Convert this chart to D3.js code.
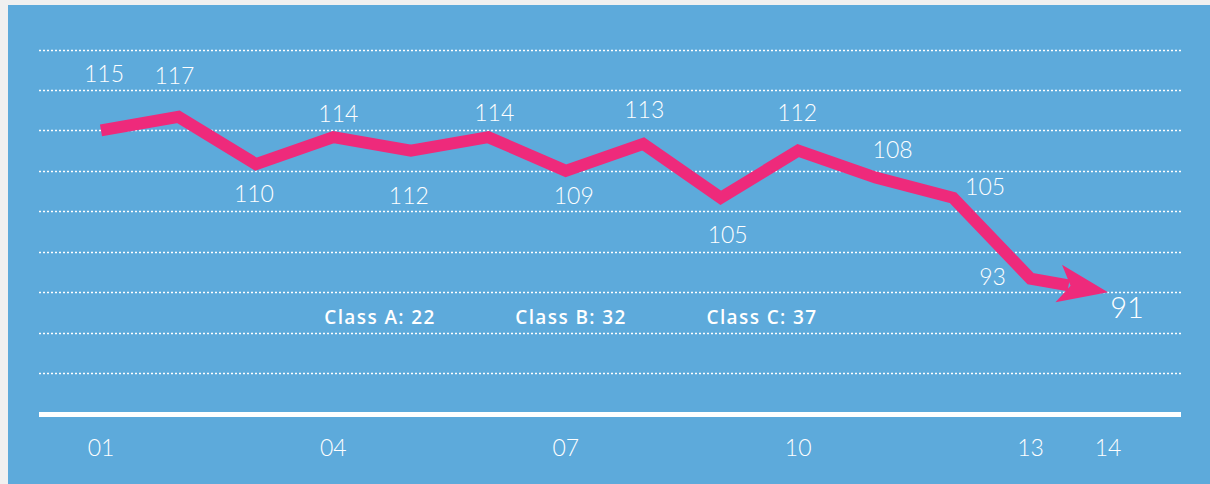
<!DOCTYPE html>
<html>
<head>
<meta charset="utf-8">
<script src="https://cdn.jsdelivr.net/npm/d3@7"></script>
<style>
  html, body { margin: 0; padding: 0; background: #f0f0f0; }
  svg { display: block; }
</style>
</head>
<body>
<div id="chart"></div>
<script>
"use strict"

// data
let periods = [1, 2, 3, 4, 5, 6, 7, 8, 9, 10, 11, 12, 13, 14];
let values = [115, 117, 110, 114, 112, 114, 109, 113, 105, 112, 108, 105, 93, 91];
let tickPeriods = [1, 4, 7, 10, 13, 14];
let tickLabels = ["01", "04", "07", "10", "13", "14"];
let gridValues = [79, 85, 91, 97, 103, 109, 115, 121, 127];
let classNames = ["Class A", "Class B", "Class C"];
let classCounts = [22, 32, 37];

// where each value label sits relative to its point (dx, dy to baseline)
let labelOffsets = [
    [3, -48], [-4, -33], [-2, 38], [5, -15], [-2, 53], [6, -16], [8, 33],
    [1, -26], [7, 45], [-1, -30], [17, -20], [32, -3], [-38, 6], [19, 26]
];

let width = 1210, height = 484;
let pink = "#ee2a7b";

let drawing = d3.select("#chart")
    .append("svg")
    .attr("width", width)
    .attr("height", height);

// blue panel
drawing.append("rect")
    .attr("x", 8)
    .attr("y", 5)
    .attr("width", width - 8)
    .attr("height", height - 5)
    .attr("fill", "#5daadb");

let x = d3.scaleLinear().domain([1, 14]).range([101, 1108]);
let y = d3.scaleLinear().domain([73, 127]).range([413.5, 49.5]);

// dotted grid
drawing.append("g")
    .selectAll("line")
    .data(gridValues)
    .join("line")
    .attr("x1", 39)
    .attr("x2", 1181)
    .attr("y1", d => Math.round(y(d)) + 0.5)
    .attr("y2", d => Math.round(y(d)) + 0.5)
    .attr("stroke", "#ffffff")
    .attr("stroke-width", 1.5)
    .attr("stroke-dasharray", "2,2");

// base line
drawing.append("line")
    .attr("x1", 39)
    .attr("x2", 1181)
    .attr("y1", y(73) + 1)
    .attr("y2", y(73) + 1)
    .attr("stroke", "#ffffff")
    .attr("stroke-width", 5);

// x tick labels
drawing.append("g")
    .selectAll("text")
    .data(tickPeriods)
    .join("text")
    .attr("x", d => x(d))
    .attr("y", 456)
    .attr("text-anchor", "middle")
    .attr("font-family", "Lato, sans-serif")
    .attr("font-weight", 300)
    .attr("font-size", 23)
    .attr("fill", "#ffffff")
    .text((d, i) => tickLabels[i]);

// line with arrow head at the end
let pts = periods.map((p, i) => [x(p), y(values[i])]);
let tip = pts[pts.length - 1];
let prev = pts[pts.length - 2];
let len = Math.hypot(tip[0] - prev[0], tip[1] - prev[1]);
let ux = (tip[0] - prev[0]) / len, uy = (tip[1] - prev[1]) / len;
let nx = -uy, ny = ux;
let headLen = 50, headHalf = 19, notch = 38;

let linePts = pts.slice(0, -1).concat([[tip[0] - ux * (notch + 2), tip[1] - uy * (notch + 2)]]);

drawing.append("path")
    .attr("d", d3.line()(linePts))
    .attr("fill", "none")
    .attr("stroke", pink)
    .attr("stroke-width", 12)
    .attr("stroke-linejoin", "miter")
    .attr("stroke-miterlimit", 10);

drawing.append("polygon")
    .attr("points", [
        tip,
        [tip[0] - ux * headLen + nx * headHalf, tip[1] - uy * headLen + ny * headHalf],
        [tip[0] - ux * notch, tip[1] - uy * notch],
        [tip[0] - ux * headLen - nx * headHalf, tip[1] - uy * headLen - ny * headHalf]
    ].map(p => p.join(",")).join(" "))
    .attr("fill", pink);

// value labels
drawing.append("g")
    .selectAll("text")
    .data(values)
    .join("text")
    .attr("x", (d, i) => x(periods[i]) + labelOffsets[i][0])
    .attr("y", (d, i) => y(d) + labelOffsets[i][1])
    .attr("text-anchor", "middle")
    .attr("font-family", "Lato, sans-serif")
    .attr("font-weight", 300)
    .attr("font-size", (d, i) => i === values.length - 1 ? 29 : 23)
    .attr("fill", "#ffffff")
    .text(d => d);

// class counts
drawing.append("g")
    .selectAll("text")
    .data(classNames)
    .join("text")
    .attr("x", (d, i) => 380 + i * 191)
    .attr("y", 324)
    .attr("text-anchor", "middle")
    .attr("font-family", "'Open Sans', sans-serif")
    .attr("font-weight", 600)
    .attr("font-size", 19)
    .attr("letter-spacing", 1.4)
    .attr("fill", "#ffffff")
    .text((d, i) => d + ": " + classCounts[i]);
</script>
</body>
</html>
